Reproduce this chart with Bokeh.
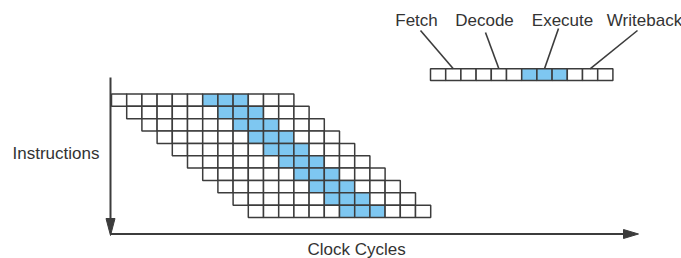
from bokeh.plotting import figure
from bokeh.models import Range1d
from bokeh.core.properties import value
from bokeh.embed import file_html
from bokeh.resources import INLINE

# ---------------- data ----------------
stages = ["Fetch", "Decode", "Execute", "Writeback"]
cycles_per_stage = [3, 3, 3, 3]
n_instructions = 10
highlight_stage = "Execute"
x_label = "Clock Cycles"
y_label = "Instructions"

# ---------------- layout (window pixels) ----------------
W, H = 681, 258
MARGIN = 0
CELL_W, ROW_H = 15.2, 12.35          # px per clock cycle / per instruction
ORIGIN_X, ORIGIN_Y = 111.0, 93.5     # window px of cycle 0 / instruction 0
TEXT_SHIFT = 5.5                     # svg baseline correction


def dx(X):
    return (X - ORIGIN_X) / CELL_W


def dy(Y):
    return (Y - ORIGIN_Y) / ROW_H


def ty(Y):
    return dy(Y - TEXT_SHIFT)


LINE = "#3c3c3c"
TEXT = "#333333"
BLUE = "#7ec7f1"
FONT = value("Liberation Sans")
FSIZE = "17px"

p = figure(width=W, height=H,
           x_range=Range1d(dx(MARGIN), dx(MARGIN + W)),
           y_range=Range1d(dy(MARGIN + H), dy(MARGIN)),
           output_backend="svg", toolbar_location=None,
           x_axis_type=None, y_axis_type=None, min_border=0,
           outline_line_color=None, background_fill_color="white",
           border_fill_color="white")
p.grid.visible = False

# stage of every cycle of an instruction
stage_of_cycle = []
stage_center = []
start = 0
for s, n in zip(stages, cycles_per_stage):
    stage_of_cycle += [s] * n
    stage_center.append(start + n / 2)
    start += n
n_cycles = len(stage_of_cycle)

# ---------------- main pipeline grid ----------------
xs, ys, cols = [], [], []
for i in range(n_instructions):
    for c in range(n_cycles):
        xs.append(i + c + 0.5)
        ys.append(i + 0.5)
        cols.append(BLUE if stage_of_cycle[c] == highlight_stage else "white")
p.rect(x=xs, y=ys, width=1, height=1, fill_color=cols,
       line_color=LINE, line_width=1.5)

# ---------------- key pipeline (top right) ----------------
KEY_X0 = dx(430)
KEY_Y0 = dy(68.3)
KEY_H = 11.7 / ROW_H
kx = [KEY_X0 + c + 0.5 for c in range(n_cycles)]
ky = [KEY_Y0 + KEY_H / 2] * n_cycles
kc = [BLUE if s == highlight_stage else "white" for s in stage_of_cycle]
p.rect(x=kx, y=ky, width=1, height=KEY_H, fill_color=kc,
       line_color=LINE, line_width=1.5)

# stage labels and leader lines
label_cx = [416, 484, 562, 644]
label_base = 25
line_top = [(420, 30), (485, 32), (558, 28), (637, 30)]
p.segment(x0=[dx(a) for a, b in line_top], y0=[dy(b) for a, b in line_top],
          x1=[KEY_X0 + c for c in stage_center], y1=[KEY_Y0] * len(stages),
          line_color=LINE, line_width=1.6)
p.text(x=[dx(v) for v in label_cx], y=[ty(label_base)] * len(stages),
       text=stages, text_font=FONT, text_font_size=FSIZE,
       text_align="center", text_baseline="alphabetic", text_color=TEXT)

# ---------------- axes with arrows ----------------
AX_X = dx(110)
AX_Y = dy(233.5)
V_TOP, V_TIP = dy(77), dy(235)
H_TIP = dx(638)
p.segment(x0=[AX_X, AX_X], y0=[V_TOP, AX_Y], x1=[AX_X, H_TIP - 10 / CELL_W],
          y1=[V_TIP - 10 / ROW_H, AX_Y], line_color=LINE, line_width=2)
# arrow heads
hw = 4.5
p.patches(xs=[[AX_X, AX_X - hw / CELL_W, AX_X + hw / CELL_W],
              [H_TIP, H_TIP - 15 / CELL_W, H_TIP - 15 / CELL_W]],
          ys=[[V_TIP, V_TIP - 17 / ROW_H, V_TIP - 17 / ROW_H],
              [AX_Y, AX_Y - hw / ROW_H, AX_Y + hw / ROW_H]],
          fill_color=LINE, line_color=LINE, line_width=1)

# axis titles
p.text(x=[dx(12)], y=[ty(158)], text=[y_label], text_font=FONT,
       text_font_size=FSIZE, text_align="left", text_baseline="alphabetic",
       text_color=TEXT)
p.text(x=[dx(307)], y=[ty(254)], text=[x_label], text_font=FONT,
       text_font_size=FSIZE, text_align="left", text_baseline="alphabetic",
       text_color=TEXT)

open("out.html", "w").write(file_html(p, INLINE))
